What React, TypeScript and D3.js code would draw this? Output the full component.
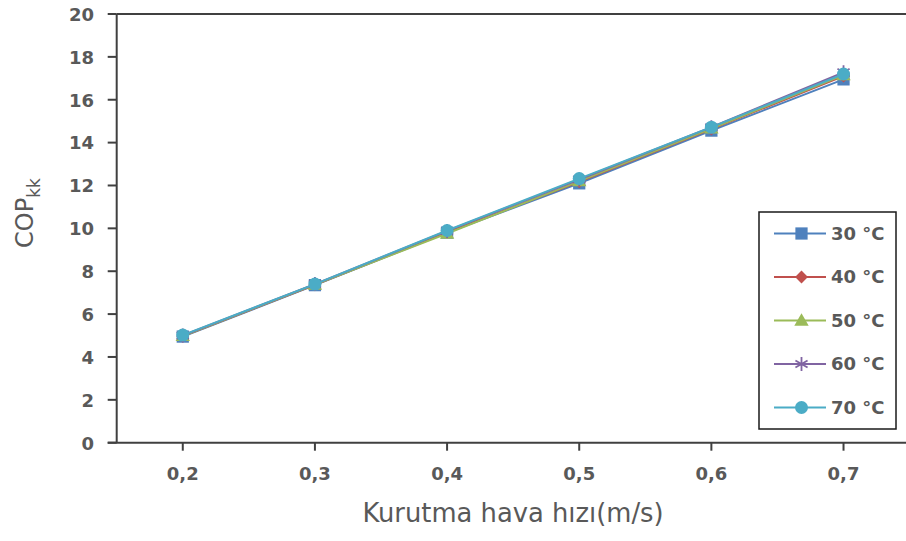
import React from "react";
import * as d3 from "d3";

const categories = ["0,2", "0,3", "0,4", "0,5", "0,6", "0,7"];
const yTicks = [0, 2, 4, 6, 8, 10, 12, 14, 16, 18, 20];

const s30 = [4.95, 7.35, 9.8, 12.1, 14.56, 16.95];
const s40 = [4.97, 7.37, 9.82, 12.17, 14.63, 17.1];
const s50 = [4.98, 7.38, 9.76, 12.2, 14.66, 17.15];
const s60 = [5.0, 7.4, 9.88, 12.28, 14.72, 17.28];
const s70 = [5.02, 7.4, 9.9, 12.32, 14.72, 17.2];

const seriesNames = ["30 °C", "40 °C", "50 °C", "60 °C", "70 °C"];
const seriesValues = [s30, s40, s50, s60, s70];
const seriesColors = ["#4F81BD", "#C0504D", "#9BBB59", "#8064A2", "#4BACC6"];
const seriesMarkers = ["square", "diamond", "triangle", "star", "circle"];

const W = 906;
const H = 541;
const left = 116.7;
const top = 14;
const bottom = 442.7;
const step = 132.15;

const textColor = "#595959";
const axisColor = "#404040";

function Marker({ kind, x, y, color }: { kind: string; x: number; y: number; color: string }) {
  if (kind === "square") {
    const p = d3.symbol(d3.symbolSquare, 150)();
    return <path d={p || ""} transform={`translate(${x},${y})`} fill={color} />;
  }
  if (kind === "diamond") {
    const p = d3.symbol(d3.symbolDiamond2, 105)();
    return <path d={p || ""} transform={`translate(${x},${y})`} fill={color} />;
  }
  if (kind === "triangle") {
    const p = d3.symbol(d3.symbolTriangle, 90)();
    return <path d={p || ""} transform={`translate(${x},${y + 1})`} fill={color} />;
  }
  if (kind === "star") {
    const r = 7;
    const segs = [90, 30, 150].map((a) => {
      const rad = (a * Math.PI) / 180;
      const dx = Math.cos(rad) * r;
      const dy = Math.sin(rad) * r;
      return `M${x - dx},${y - dy}L${x + dx},${y + dy}`;
    });
    return <path d={segs.join("")} stroke={color} strokeWidth={1.8} fill="none" />;
  }
  return <circle cx={x} cy={y} r={6.5} fill={color} />;
}

export default function App() {
  const x = d3
    .scaleBand<string>()
    .domain(categories)
    .range([left, left + step * categories.length])
    .padding(0);
  const y = d3.scaleLinear().domain([0, 20]).range([bottom, top]);
  const cx = (c: string) => (x(c) || 0) + x.bandwidth() / 2;

  const line = d3
    .line<number>()
    .x((_, i) => cx(categories[i]))
    .y((d) => y(d));

  const legendX = 759;
  const legendY = 212;
  const legendW = 137;
  const legendH = 217;
  const legendRow0 = 233.5;
  const legendStep = 43.5;

  return (
    <svg
      width={W}
      height={H}
      viewBox={`0 0 ${W} ${H}`}
      style={{ position: "absolute", left: 0, top: 0, background: "#fff" }}
    >
      <rect x={0} y={0} width={W} height={H} fill="#fff" />
      {/* top border of plot area */}
      <line x1={left} x2={W} y1={top} y2={top} stroke={axisColor} strokeWidth={2} />
      {/* y axis */}
      <line x1={left} x2={left} y1={top} y2={bottom} stroke={axisColor} strokeWidth={2} />
      {yTicks.map((t) => (
        <g key={t}>
          <line x1={left - 9} x2={left} y1={y(t)} y2={y(t)} stroke={axisColor} strokeWidth={2} />
          <text
            x={94}
            y={y(t)}
            dy="0.38em"
            textAnchor="end"
            fontFamily="DejaVu Sans"
            fontWeight="bold"
            fontSize={18}
            fill={textColor}
          >
            {t}
          </text>
        </g>
      ))}
      {/* x axis */}
      <line x1={left - 9} x2={W} y1={bottom} y2={bottom} stroke={axisColor} strokeWidth={2} />
      {categories.map((c) => (
        <g key={c}>
          <line x1={cx(c)} x2={cx(c)} y1={bottom} y2={bottom + 8} stroke={axisColor} strokeWidth={2} />
          <text
            x={cx(c)}
            y={480}
            textAnchor="middle"
            fontFamily="DejaVu Sans"
            fontWeight="bold"
            fontSize={18}
            fill={textColor}
          >
            {c}
          </text>
        </g>
      ))}
      {/* axis titles */}
      <text
        x={513}
        y={522}
        textAnchor="middle"
        fontFamily="DejaVu Sans"
        fontSize={25.8}
        fill={textColor}
      >
        Kurutma hava hızı(m/s)
      </text>
      <text
        transform="translate(33,213) rotate(-90)"
        textAnchor="middle"
        fontFamily="DejaVu Sans"
        fontSize={24}
        fill={textColor}
      >
        COP
        <tspan fontSize={17} dy={7}>
          kk
        </tspan>
      </text>
      {/* series */}
      {seriesValues.map((vals, si) => (
        <g key={si}>
          <path d={line(vals) || ""} fill="none" stroke={seriesColors[si]} strokeWidth={2} />
          {vals.map((v, i) => (
            <Marker
              key={i}
              kind={seriesMarkers[si]}
              x={cx(categories[i])}
              y={y(v)}
              color={seriesColors[si]}
            />
          ))}
        </g>
      ))}
      {/* legend */}
      <rect
        x={legendX}
        y={legendY}
        width={legendW}
        height={legendH}
        fill="#fff"
        stroke="#1a1a1a"
        strokeWidth={1.5}
      />
      {seriesNames.map((n, si) => {
        const ly = legendRow0 + si * legendStep;
        return (
          <g key={n}>
            <line x1={774} x2={826} y1={ly} y2={ly} stroke={seriesColors[si]} strokeWidth={2} />
            <Marker kind={seriesMarkers[si]} x={801.5} y={ly} color={seriesColors[si]} />
            <text
              x={831}
              y={ly}
              dy="0.36em"
              fontFamily="DejaVu Sans"
              fontWeight="bold"
              fontSize={18}
              fill={textColor}
            >
              {n}
            </text>
          </g>
        );
      })}
    </svg>
  );
}
